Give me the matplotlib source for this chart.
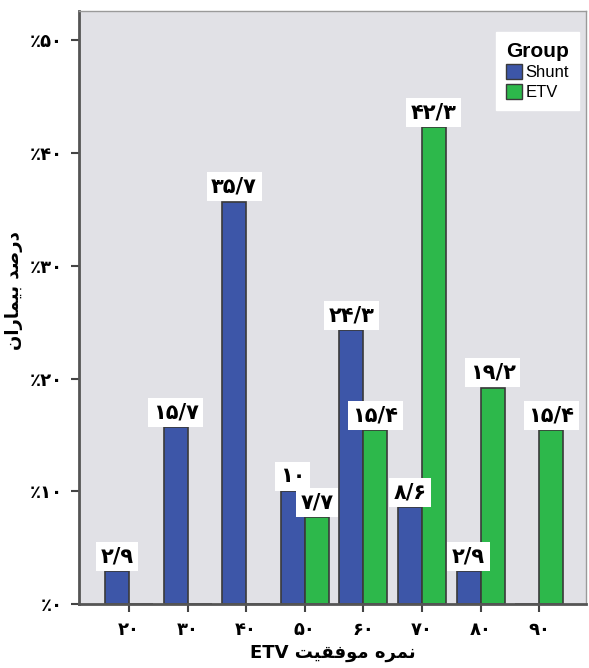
"""
نمودار درصد بیماران بر حسب نمره موفقیت ETV برای دو گروه Shunt و ETV
"""
#-->Importar librerías
import numpy as np
import matplotlib
matplotlib.use("Agg")
import matplotlib.pyplot as plt
from matplotlib.patches import Patch

#-->Datos del gráfico
categorias = [20, 30, 40, 50, 60, 70, 80, 90]
shunt = [2.9, 15.7, 35.7, 10, 24.3, 8.6, 2.9, 0]
etv = [0, 0, 0, 7.7, 15.4, 42.3, 19.2, 15.4]
y_ticks = [0, 10, 20, 30, 40, 50]
titulo_y = "درصد بیماران"
titulo_x = "نمره موفقیت"

#-->Formas de presentación árabe (iso, fin, ini, med)
FORMAS = {
    "ا": ("\uFE8D", "\uFE8E", None, None),
    "ب": ("\uFE8F", "\uFE90", "\uFE91", "\uFE92"),
    "ت": ("\uFE95", "\uFE96", "\uFE97", "\uFE98"),
    "د": ("\uFEA9", "\uFEAA", None, None),
    "ر": ("\uFEAD", "\uFEAE", None, None),
    "ص": ("\uFEB9", "\uFEBA", "\uFEBB", "\uFEBC"),
    "ف": ("\uFED1", "\uFED2", "\uFED3", "\uFED4"),
    "ق": ("\uFED5", "\uFED6", "\uFED7", "\uFED8"),
    "م": ("\uFEE1", "\uFEE2", "\uFEE3", "\uFEE4"),
    "ن": ("\uFEE5", "\uFEE6", "\uFEE7", "\uFEE8"),
    "ه": ("\uFEE9", "\uFEEA", "\uFEEB", "\uFEEC"),
    "و": ("\uFEED", "\uFEEE", None, None),
    "ی": ("\uFBFC", "\uFBFD", "\uFEF3", "\uFEF4"),
}


def farsi(texto):
    #-->Une las letras y las pone en orden visual (de izquierda a derecha)
    out = []
    for i, ch in enumerate(texto):
        if ch not in FORMAS:
            out.append(ch)
            continue
        prev = texto[i - 1] if i > 0 else ""
        nxt = texto[i + 1] if i + 1 < len(texto) else ""
        une_prev = prev in FORMAS and FORMAS[prev][2] is not None
        une_next = nxt in FORMAS and FORMAS[ch][2] is not None
        iso, fin, ini, med = FORMAS[ch]
        if une_prev and une_next:
            out.append(med)
        elif une_prev:
            out.append(fin)
        elif une_next:
            out.append(ini)
        else:
            out.append(iso)
    return "".join(reversed(out))


DIGITOS = str.maketrans("0123456789.", "۰۱۲۳۴۵۶۷۸۹/")


def num_fa(v):
    s = f"{v:g}"
    return s.translate(DIGITOS)


#-->Colores
azul = "#3D56A8"
verde = "#2DB84B"
fondo = "#E1E1E6"
borde = "#3A3A3A"

fig = plt.figure(figsize=(5.89, 6.68), dpi=100)
ax = fig.add_axes([79 / 589, 64 / 668, 507 / 589, 593 / 668])
ax.set_facecolor(fondo)

x = np.arange(len(categorias))
w = 0.41

#-->Barras
b1 = ax.bar(x - w / 2, shunt, w, color=azul, edgecolor=borde, linewidth=1.2)
b2 = ax.bar(x + w / 2, etv, w, color=verde, edgecolor=borde, linewidth=1.2)

#-->Etiquetas de valores encima de las barras
for barras, vals in [(b1, shunt), (b2, etv)]:
    for bar, v in zip(barras, vals):
        if v == 0:
            continue
        ax.annotate(
            num_fa(v),
            (bar.get_x() + bar.get_width() / 2, v),
            xytext=(0, 3.5), textcoords="offset points",
            ha="center", va="bottom",
            fontsize=15, fontweight="bold", family="DejaVu Sans",
            bbox=dict(boxstyle="square,pad=0.22", fc="white", ec="none"),
            zorder=5,
        )

#-->Ejes
ax.set_xlim(-0.853, len(categorias) - 1 + 0.80)
ax.set_ylim(0, 52.6)
ax.set_xticks(x)
ax.set_xticklabels([num_fa(c) for c in categorias], fontsize=13, fontweight="bold")
ax.set_yticks(y_ticks)
ax.set_yticklabels(["٪" + num_fa(t) for t in y_ticks], fontsize=13, fontweight="bold")
ax.tick_params(axis="both", length=6, width=1.5, color="#444444", pad=6)

for lado in ["left", "bottom"]:
    ax.spines[lado].set_color("#555555")
    ax.spines[lado].set_linewidth(2)
for lado in ["top", "right"]:
    ax.spines[lado].set_color("#9A9A9A")
    ax.spines[lado].set_linewidth(1)

#-->Títulos de los ejes
fig.text(14 / 589, 1 - 291 / 668, farsi(titulo_y), rotation=90,
         ha="center", va="center", fontsize=13, fontweight="bold")
ax.set_xlabel("ETV " + farsi(titulo_x), fontsize=13, fontweight="bold", labelpad=4)

#-->Leyenda
handles = [
    Patch(facecolor=azul, edgecolor=borde, label="Shunt"),
    Patch(facecolor=verde, edgecolor=borde, label="ETV"),
]
leg = ax.legend(
    handles=handles, title="Group", loc="upper left",
    bbox_to_anchor=(0.822, 0.965), borderaxespad=0, frameon=True, fancybox=False,
    edgecolor="white", facecolor="white", framealpha=1,
    prop={"family": "Liberation Sans", "size": 12},
    handlelength=1.0, handleheight=1.0, handletextpad=0.2,
    labelspacing=0.2, borderpad=0.6, alignment="left",
)
leg.get_title().set_fontweight("bold")
leg.get_title().set_fontsize(15)
leg.get_title().set_family("Liberation Sans")

fig.savefig("out.png", dpi=100)
